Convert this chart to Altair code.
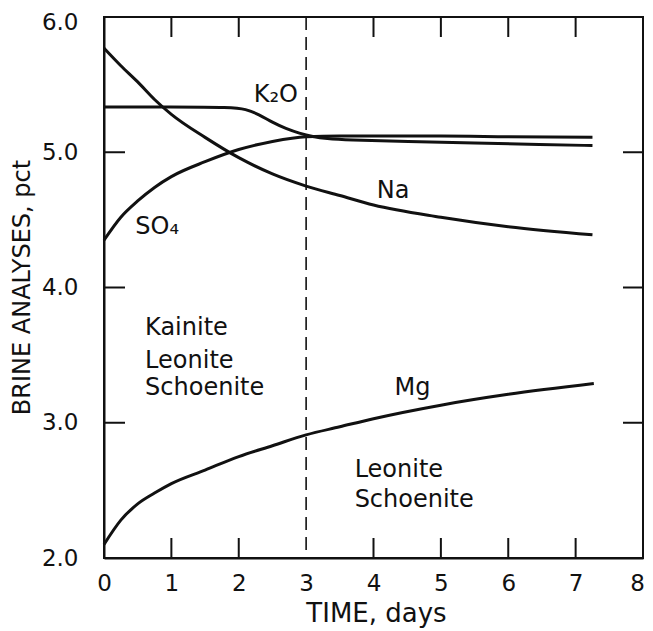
import altair as alt
import pandas as pd

# ---- data ----
t_na = [0, 0.25, 0.5, 0.75, 1.0, 1.5, 2.0, 2.5, 3.0, 3.5, 4.0, 5.0, 6.0, 7.25]
na = [5.77, 5.64, 5.52, 5.39, 5.28, 5.11, 4.96, 4.84, 4.75, 4.68, 4.61, 4.52, 4.45, 4.39]

t_so4 = [0, 0.25, 0.5, 0.75, 1.0, 1.5, 2.0, 2.5, 3.0, 3.5, 4.0, 5.0, 6.0, 7.25]
so4 = [4.35, 4.52, 4.64, 4.74, 4.82, 4.93, 5.02, 5.08, 5.115, 5.12, 5.12, 5.12, 5.115, 5.11]

t_k2o = [0, 1.0, 1.9, 2.1, 2.3, 2.5, 2.7, 2.9, 3.1, 3.3, 3.6, 4.5, 5.5, 6.5, 7.25]
k2o = [5.335, 5.335, 5.333, 5.32, 5.28, 5.22, 5.175, 5.14, 5.115, 5.10, 5.09, 5.08, 5.07, 5.055, 5.05]

t_mg = [0, 0.25, 0.5, 0.75, 1.0, 1.5, 2.0, 2.5, 3.0, 3.5, 4.0, 5.0, 6.0, 7.27]
mg = [2.10, 2.28, 2.40, 2.48, 2.55, 2.65, 2.75, 2.83, 2.91, 2.97, 3.03, 3.13, 3.21, 3.29]

boundary_day = [3]

x_ticks = [1, 2, 4, 5, 6, 7]
y_ticks = [3, 4, 5]
x_labels = [0, 1, 2, 3, 4, 5, 6, 7, 8]
y_labels = [2, 3, 4, 5, 6]

ann_text = ["K\u2082O", "SO\u2084", "Na", "Mg",
            "Kainite", "Leonite", "Schoenite",
            "Leonite", "Schoenite"]
ann_t = [2.55, 0.79, 4.29, 4.58, 0.61, 0.61, 0.61, 3.72, 3.72]
ann_v = [5.42, 4.45, 4.71, 3.26, 3.70, 3.46, 3.26, 2.65, 2.43]
ann_align = ["center", "center", "center", "center",
             "left", "left", "left", "left", "left"]

# ---- tables ----
rows = []
for name, ts, vs in [("Na", t_na, na), ("SO4", t_so4, so4), ("Mg", t_mg, mg)]:
    for t, v in zip(ts, vs):
        rows.append({"series": name, "t": t, "v": v})
lines_df = pd.DataFrame(rows)
k2o_df = pd.DataFrame({"series": "K2O", "t": t_k2o, "v": k2o})
ann_df = pd.DataFrame({"label": ann_text, "t": ann_t, "v": ann_v, "align": ann_align})

W, H = 539, 541
FONT = "DejaVu Sans"
INK = "#111111"

xs = alt.Scale(domain=[0, 8], nice=False, zero=False)
ys = alt.Scale(domain=[2, 6], nice=False, zero=False)

x_enc = alt.X("t:Q", scale=xs, axis=alt.Axis(
    values=x_labels, format="d", title="TIME, days", grid=False, ticks=False,
    labelPadding=14, labelFlush=False, titleX=272, titleY=55,
    titleBaseline="middle", titleAlign="center", titleFontSize=26,
    labelOffset={"condition": {"test": "datum.value == 8", "value": -6}, "value": 0}))
y_enc = alt.Y("v:Q", scale=ys, axis=alt.Axis(
    values=y_labels, format=".1f", title="BRINE ANALYSES, pct", grid=False,
    ticks=False, labelPadding=26, labelFlush=False, titleX=-82, titleY=270,
    titleBaseline="middle", titleAlign="center", titleFontSize=24,
    labelOffset={"condition": {"test": "datum.value == 6", "value": 5}, "value": 0}))

lines = alt.Chart(lines_df).mark_line(
    color=INK, strokeWidth=3, interpolate="monotone"
).encode(x=x_enc, y=y_enc, detail="series:N")

k2o_line = alt.Chart(k2o_df).mark_line(
    color=INK, strokeWidth=3, interpolate="basis"
).encode(x=alt.X("t:Q", scale=xs), y=alt.Y("v:Q", scale=ys))

dashed = alt.Chart(pd.DataFrame({"t": boundary_day})).mark_rule(
    color=INK, strokeWidth=1.6, strokeDash=[13, 7]
).encode(x=alt.X("t:Q", scale=xs))

xt_df = pd.DataFrame({"t": x_ticks})
yt_df = pd.DataFrame({"v": y_ticks})
tick_style = dict(color=INK, strokeWidth=2)
top_ticks = alt.Chart(xt_df).mark_rule(**tick_style).encode(
    x=alt.X("t:Q", scale=xs), y=alt.value(0), y2=alt.value(20))
bottom_ticks = alt.Chart(xt_df).mark_rule(**tick_style).encode(
    x=alt.X("t:Q", scale=xs), y=alt.value(H - 20), y2=alt.value(H))
left_ticks = alt.Chart(yt_df).mark_rule(**tick_style).encode(
    y=alt.Y("v:Q", scale=ys), x=alt.value(0), x2=alt.value(21))
right_ticks = alt.Chart(yt_df).mark_rule(**tick_style).encode(
    y=alt.Y("v:Q", scale=ys), x=alt.value(W - 20), x2=alt.value(W))

ann_center = alt.Chart(ann_df[ann_df["align"] == "center"]).mark_text(
    font=FONT, fontSize=24, color=INK, align="center", baseline="middle"
).encode(x=alt.X("t:Q", scale=xs), y=alt.Y("v:Q", scale=ys), text="label:N")
ann_left = alt.Chart(ann_df[ann_df["align"] == "left"]).mark_text(
    font=FONT, fontSize=24, color=INK, align="left", baseline="middle"
).encode(x=alt.X("t:Q", scale=xs), y=alt.Y("v:Q", scale=ys), text="label:N")

chart = alt.layer(
    lines, k2o_line, dashed, top_ticks, bottom_ticks, left_ticks, right_ticks,
    ann_center, ann_left
).properties(
    width=W, height=H,
    autosize=alt.AutoSizeParams(type="none"),
    padding={"left": 96, "top": 9, "right": 2, "bottom": 70},
    background="white",
).configure_view(
    stroke=INK, strokeWidth=2
).configure_axis(
    domainColor=INK, domainWidth=2,
    labelFont=FONT, labelFontSize=23, labelColor=INK,
    titleFont=FONT, titleFontWeight="normal", titleColor=INK,
)

chart.save("out.html", embed_options={"renderer": "svg", "actions": False})
